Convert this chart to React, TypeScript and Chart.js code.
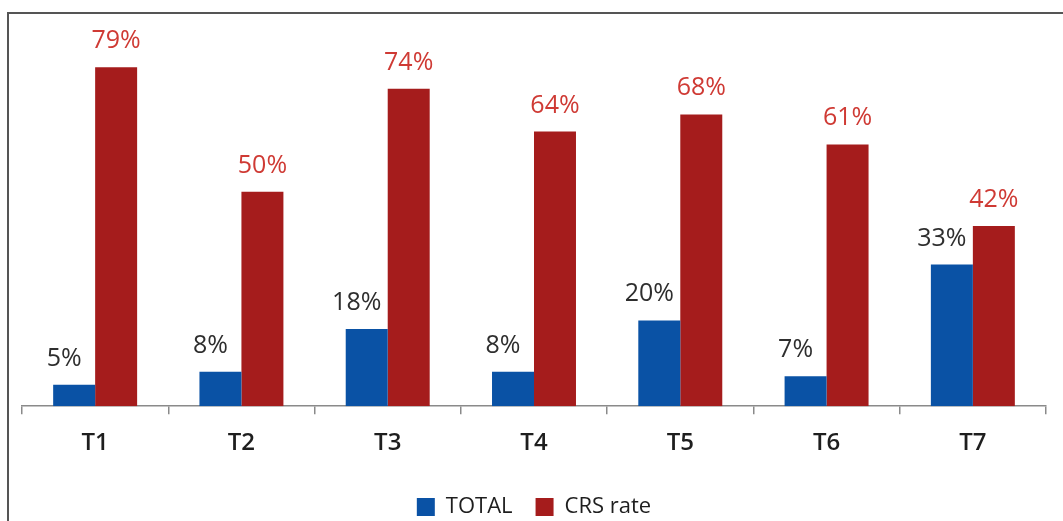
import React, { useEffect, useRef } from "react";
import { Chart, registerables } from "chart.js";

Chart.register(...registerables);

const categories = ["T1", "T2", "T3", "T4", "T5", "T6", "T7"];
const totalValues = [5, 8, 18, 8, 20, 7, 33];
const crsValues = [79, 50, 74, 64, 68, 61, 42];
const seriesNames = ["TOTAL", "CRS rate"];

const FONT = "'Open Sans', 'DejaVu Sans', sans-serif";

// Percent labels above each bar
const valueLabels = {
  id: "valueLabels",
  afterDatasetsDraw(chart: any) {
    const ctx = chart.ctx;
    ctx.save();
    ctx.font = `25px ${FONT}`;
    ctx.textAlign = "center";
    ctx.textBaseline = "alphabetic";
    chart.data.datasets.forEach((ds: any, di: number) => {
      const meta = chart.getDatasetMeta(di);
      meta.data.forEach((bar: any, i: number) => {
        const v = ds.data[i];
        const dx = di === 0 ? -10 : 0;
        ctx.fillStyle = di === 0 ? "#2e2e2e" : "#cf3a34";
        ctx.fillText(`${v}%`, bar.x + dx, bar.y - 19);
      });
    });
    ctx.restore();
  },
};

export default function App() {
  const canvasRef = useRef<HTMLCanvasElement | null>(null);

  useEffect(() => {
    if (!canvasRef.current) return;
    const chart = new Chart(canvasRef.current, {
      type: "bar",
      data: {
        labels: categories,
        datasets: [
          {
            label: seriesNames[0],
            data: totalValues,
            backgroundColor: "#0a52a5",
            categoryPercentage: 0.574,
            barPercentage: 1,
          },
          {
            label: seriesNames[1],
            data: crsValues,
            backgroundColor: "#a51c1c",
            categoryPercentage: 0.574,
            barPercentage: 1,
          },
        ],
      },
      options: {
        responsive: false,
        animation: false,
        layout: { padding: { left: 22, right: 17, top: 20, bottom: 0 } },
        plugins: {
          tooltip: { enabled: false },
          legend: {
            position: "bottom",
            labels: {
              boxWidth: 18,
              boxHeight: 18,
              padding: 23,
              color: "#1e1e1e",
              font: { family: FONT, size: 22 },
            },
          },
        },
        scales: {
          x: {
            grid: {
              drawOnChartArea: false,
              drawTicks: true,
              tickLength: 8,
              color: "#8a8a8a",
              lineWidth: 1.5,
            },
            border: { color: "#8a8a8a", width: 1.5 },
            ticks: {
              color: "#1e1e1e",
              padding: 15,
              font: { family: FONT, size: 24, weight: 600 },
            },
          },
          y: {
            display: false,
            min: 0,
            max: 90,
          },
        },
      },
      plugins: [valueLabels],
    });
    return () => chart.destroy();
  }, []);

  return (
    <div
      style={{
        position: "absolute",
        left: 0,
        top: 0,
        width: 1063,
        height: 521,
        overflow: "hidden",
      }}
    >
      <div
        style={{
          position: "absolute",
          left: 7,
          top: 12,
          width: 1080,
          height: 540,
          borderTop: "2px solid #555",
          borderLeft: "2px solid #555",
        }}
      />
      <canvas
        ref={canvasRef}
        width={1063}
        height={528}
        style={{ position: "absolute", left: 0, top: 0 }}
      />
    </div>
  );
}
